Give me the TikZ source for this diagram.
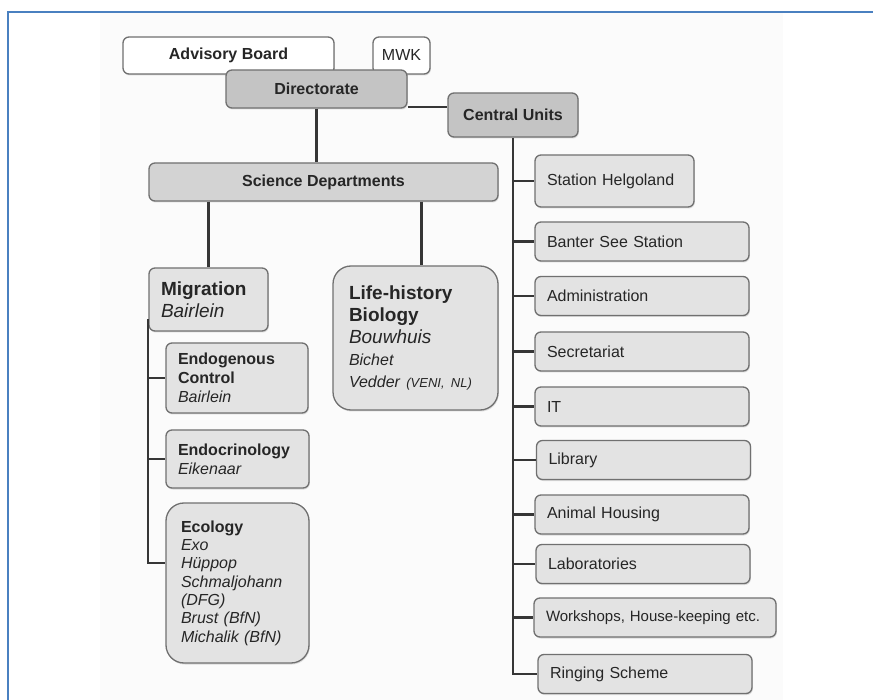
\documentclass[tikz,border=0pt]{standalone}
\usepackage{fontspec}
\setmainfont{Liberation Sans}
\usetikzlibrary{shadows}
\definecolor{frameblue}{HTML}{4A80C0}
\definecolor{boxline}{HTML}{707070}
\definecolor{darkfill}{HTML}{C4C4C4}
\definecolor{midfill}{HTML}{D3D3D3}
\definecolor{lightfill}{HTML}{E3E3E3}
\definecolor{wirecol}{HTML}{363636}
\definecolor{paper}{HTML}{FBFBFB}

\begin{document}
\begin{tikzpicture}[x=1pt,y=-1pt,
        box/.style={draw=boxline, line width=1.3pt, rounded corners=6pt, text=black!85,
            font=\fontsize{16}{19}\selectfont, inner xsep=12pt, inner ysep=2pt,
            drop shadow={shadow xshift=0.8pt, shadow yshift=-1.5pt, opacity=0.25}},
        board/.style={box, fill=white},
        head/.style={box, fill=darkfill, font=\fontsize{16}{19}\selectfont\bfseries},
        dept/.style={box, fill=lightfill, align=left},
        unit/.style={box, fill=lightfill, align=left, text width=190pt, minimum height=39pt},
        wire/.style={draw=wirecol, line width=2.2pt}]
        \useasboundingbox (0,0) rectangle (873,700);
        \fill[paper] (100,13) rectangle (783,700);
        \draw[frameblue, line width=2pt] (7.5,700) -- (7.5,12.5) -- (873,12.5);

        \node[board, minimum width=211pt, minimum height=37pt] (adv) at (228.5,55.5) {\bfseries Advisory Board};
        \node[board, minimum width=57pt, minimum height=37pt, inner xsep=4pt] (mwk) at (401.5,55.5) {MWK};
        \node[head, minimum width=181pt, minimum height=38pt] (dir) at (316.5,89) {Directorate};
        \node[head, minimum width=130pt, minimum height=44pt] (cu) at (513,115) {Central Units};
        \node[head, fill=midfill, minimum width=349pt, minimum height=38pt] (sci) at (323.5,182) {Science Departments};

        \node[dept, text width=95pt, minimum height=63pt, font=\fontsize{19}{22}\selectfont] (mig) at (208.5,299.5)
            {\textbf{Migration}\\ \textit{Bairlein}};
        \node[dept, text width=133pt, inner xsep=16pt, minimum height=144pt, rounded corners=18pt,
            font=\fontsize{19}{22}\selectfont] (lhb) at (415.5,338)
            {\textbf{Life-history}\\ \textbf{Biology}\\ \textit{Bouwhuis}\\
             {\fontsize{16}{19}\selectfont\textit{Bichet}}\\
             {\fontsize{16}{19}\selectfont\textit{Vedder {\fontsize{13}{16}\selectfont (VENI, NL)}}}};
        \node[dept, text width=118pt, minimum height=70pt] (endo) at (237,378)
            {\textbf{Endogenous}\\ \textbf{Control}\\ \textit{Bairlein}};
        \node[dept, text width=119pt, minimum height=58pt] (endocr) at (237.5,459)
            {\textbf{Endocrinology}\\ \textit{Eikenaar}};
        \node[dept, text width=113pt, inner xsep=15pt, minimum height=160pt, rounded corners=18pt,
            font=\fontsize{16}{18.3}\selectfont] (eco) at (237.5,583)
            {\textbf{Ecology}\\ \textit{Exo}\\ \textit{Hüppop}\\ \textit{Schmaljohann}\\
             \textit{(DFG)}\\ \textit{Brust (BfN)}\\ \textit{Michalik (BfN)}};

        \node[unit, text width=135pt, minimum height=52pt] (helg) at (614.5,181) {Station Helgoland};
        \node[unit] (banter) at (642,241.5) {Banter See Station};
        \node[unit] (admin) at (642,296) {Administration};
        \node[unit] (secr) at (642,351.5) {Secretariat};
        \node[unit] (it) at (642,406.5) {IT};
        \node[unit] (lib) at (643.5,460) {Library};
        \node[unit] (anim) at (642,514.5) {Animal Housing};
        \node[unit] (labs) at (643,564) {Laboratories};
        \node[unit, text width=218pt, font=\fontsize{15}{18}\selectfont] (works) at (655,617.5) {Workshops, House-keeping etc.};
        \node[unit] (ring) at (645,674) {Ringing Scheme};

        \coordinate (dirjoin) at ([yshift=2pt]dir.south east);
        \coordinate (lhbtop) at ([xshift=6pt]lhb.north);
        \coordinate (migleft) at ([yshift=-20pt]mig.west);
        \coordinate (ecotick) at ([yshift=20pt]eco.west);

        \draw[wire] (dir.south) -- (dir.south |- sci.north);
        \draw[wire] (dirjoin) -- (dirjoin -| cu.west);
        \draw[wire] (mig.north |- sci.south) -- (mig.north);
        \draw[wire] (lhbtop |- sci.south) -- (lhbtop);
        \draw[wire] (migleft) |- (ecotick);
        \foreach \n in {endo,endocr}
            \draw[wire] (migleft |- \n.west) -- (\n.west);
        \draw[wire] (cu.south) |- (ring.west);
        \foreach \n in {helg,banter,admin,secr,it,lib,anim,labs,works}
            \draw[wire] (cu.south |- \n.west) -- (\n.west);
    \end{tikzpicture}
\end{document}
